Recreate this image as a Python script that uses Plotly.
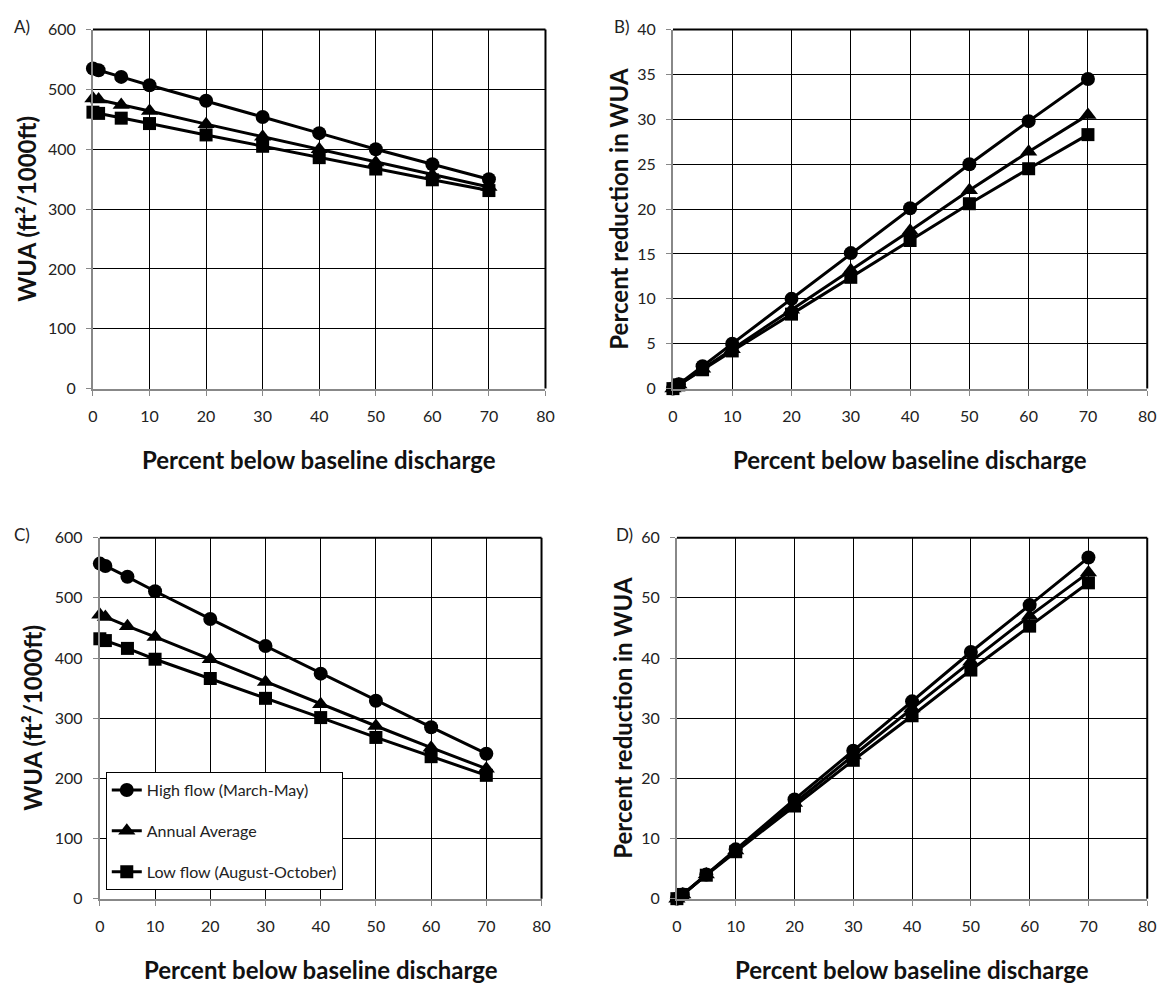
import plotly.graph_objects as go

# ---- data ----
x_pct = [0, 1, 5, 10, 20, 30, 40, 50, 60, 70]
series_names = ["High flow (March-May)", "Annual Average", "Low flow (August-October)"]

# Panel A: WUA (ft2/1000ft)
a_high = [535, 532, 521, 507, 481, 454, 427, 400, 375, 350]
a_annual = [485, 483, 474, 464, 442, 421, 400, 378, 357, 337]
a_low = [462, 460, 452, 443, 424, 405, 386, 367, 349, 331]

# Panel B: percent reduction in WUA
b_high = [0, 0.5, 2.5, 5.0, 10.0, 15.1, 20.1, 25.0, 29.8, 34.5]
b_annual = [0, 0.45, 2.2, 4.4, 8.8, 13.2, 17.6, 22.1, 26.4, 30.5]
b_low = [0, 0.42, 2.1, 4.2, 8.3, 12.4, 16.5, 20.6, 24.5, 28.3]

# Panel C: WUA (ft2/1000ft)
c_high = [557, 553, 535, 511, 465, 420, 374, 329, 285, 241]
c_annual = [472, 468, 453, 435, 398, 360, 323, 287, 251, 216]
c_low = [432, 429, 416, 398, 366, 333, 301, 268, 236, 205]

# Panel D: percent reduction in WUA
d_high = [0, 0.7, 4.0, 8.2, 16.5, 24.6, 32.8, 41.0, 48.8, 56.7]
d_annual = [0, 0.7, 4.0, 8.0, 15.9, 23.8, 31.6, 39.4, 47.0, 54.2]
d_low = [0, 0.7, 3.9, 7.8, 15.4, 23.0, 30.4, 38.0, 45.3, 52.5]

panel_labels = ["A)", "B)", "C)", "D)"]
x_ticks = [0, 10, 20, 30, 40, 50, 60, 70, 80]
wua_ticks = [0, 100, 200, 300, 400, 500, 600]
b_ticks = [0, 5, 10, 15, 20, 25, 30, 35, 40]
d_ticks = [0, 10, 20, 30, 40, 50, 60]
x_title = "Percent below baseline discharge"
wua_title = "WUA (ft\u00b2/1000ft)"
red_title = "Percent reduction in WUA"

symbols = ["circle", "triangle-up", "square"]
msizes = [14, 15, 13]

W, H = 1175, 993
FONT = "Lato, Carlito, 'Open Sans', sans-serif"

# pixel boxes of the plot areas: (x0, x1, ytop, ybottom)
boxes = [
    (89, 547, 20, 386),
    (676, 1156, 20, 386),
    (96, 543, 538, 906),
    (680, 1156, 538, 906),
]
ytitle_x = [21, 621, 28, 625]
label_x = [7, 614, 7, 616]

panels = [
    ([a_high, a_annual, a_low], wua_ticks, wua_title),
    ([b_high, b_annual, b_low], b_ticks, red_title),
    ([c_high, c_annual, c_low], wua_ticks, wua_title),
    ([d_high, d_annual, d_low], d_ticks, red_title),
]

fig = go.Figure()
layout = dict(
    width=W, height=H,
    margin=dict(l=0, r=0, t=0, b=0),
    paper_bgcolor="white", plot_bgcolor="white",
    font=dict(family=FONT, color="#222222", size=16),
    showlegend=True,
    legend=dict(
        x=102 / W, y=1 - 777 / H, xanchor="left", yanchor="top",
        bordercolor="black", borderwidth=1, bgcolor="white",
        font=dict(size=16, color="#222222"),
        traceorder="grouped", tracegroupgap=17,
    ),
)
annotations = []
shapes = []

for i, (series, yticks, ytitle) in enumerate(panels):
    x0, x1, yt, yb = boxes[i]
    xa = "x" if i == 0 else f"x{i+1}"
    ya = "y" if i == 0 else f"y{i+1}"
    xkey = "xaxis" if i == 0 else f"xaxis{i+1}"
    ykey = "yaxis" if i == 0 else f"yaxis{i+1}"
    for k, vals in enumerate(series):
        fig.add_trace(go.Scatter(
            x=x_pct, y=vals, mode="lines+markers", name=series_names[k],
            line=dict(color="black", width=3),
            marker=dict(symbol=symbols[k], size=msizes[k], color="black"),
            xaxis=xa, yaxis=ya, cliponaxis=False,
            showlegend=(i == 2), legendgroup=f"g{k}",
        ))
    layout[xkey] = dict(
        domain=[x0 / W, x1 / W], anchor=ya,
        range=[0, 80], tickvals=x_ticks, ticktext=[str(t) for t in x_ticks],
        showgrid=True, gridcolor="black", gridwidth=1,
        showline=True, linecolor="#888888", linewidth=2,
        ticks="outside", ticklen=5, tickcolor="#888888", tickwidth=1,
        ticklabelstandoff=7,
        tickfont=dict(size=16, color="#222222"), zeroline=False,
        fixedrange=True,
    )
    layout[ykey] = dict(
        domain=[1 - yb / H, 1 - yt / H], anchor=xa,
        range=[yticks[0], yticks[-1]], tickvals=yticks,
        ticktext=[str(t) for t in yticks],
        showgrid=True, gridcolor="black", gridwidth=1,
        showline=True, linecolor="#888888", linewidth=2,
        ticks="outside", ticklen=5, tickcolor="#888888", tickwidth=1,
        ticklabelstandoff=7,
        tickfont=dict(size=16, color="#222222"), zeroline=False,
        fixedrange=True,
    )
    # black top and right borders
    shapes.append(dict(type="line", xref=f"{xa} domain", yref=f"{ya} domain",
                       x0=0, x1=1, y0=1, y1=1, line=dict(color="black", width=2)))
    shapes.append(dict(type="line", xref=f"{xa} domain", yref=f"{ya} domain",
                       x0=1, x1=1, y0=0, y1=1, line=dict(color="black", width=2)))
    # x title
    annotations.append(dict(
        text=f"<b>{x_title}</b>", xref="paper", yref="paper",
        x=(x0 + x1) / 2 / W, y=1 - (yb + 72) / H, xanchor="center", yanchor="middle",
        showarrow=False, font=dict(size=24, color="#111111", family=FONT)))
    # y title
    annotations.append(dict(
        text=f"<b>{ytitle}</b>", xref="paper", yref="paper", textangle=-90,
        x=ytitle_x[i] / W, y=1 - (yt + yb) / 2 / H,
        xanchor="center", yanchor="middle",
        showarrow=False, font=dict(size=24, color="#111111", family=FONT)))
    # panel label
    annotations.append(dict(
        text=panel_labels[i], xref="paper", yref="paper",
        x=label_x[i] / W, y=1 - (yt - 3) / H,
        xanchor="left", yanchor="middle",
        showarrow=False, font=dict(size=17, color="#222222", family=FONT)))

layout["annotations"] = annotations
layout["shapes"] = shapes
fig.update_layout(**layout)
fig.write_html(
    "out.html",
    config={"displayModeBar": False, "staticPlot": True},
    post_script="document.body.style.margin='0';document.body.style.overflow='hidden';",
)
